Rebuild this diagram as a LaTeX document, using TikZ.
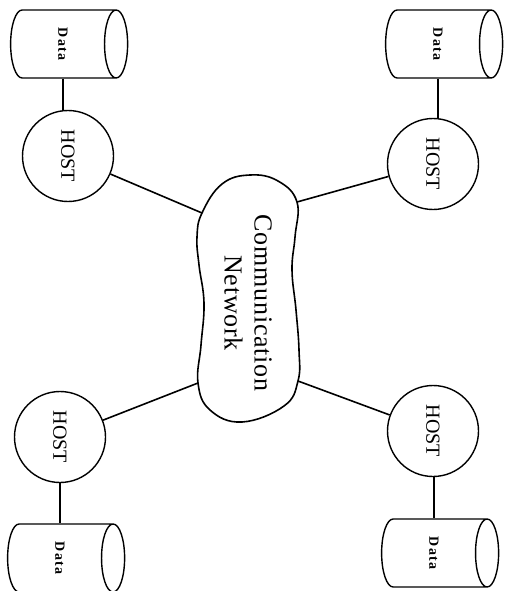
\documentclass[tikz,border=0pt]{standalone}
\usepackage{fontspec}
\setmainfont{Liberation Serif}
\newfontfamily\datafont[LetterSpace=10]{Liberation Serif}
\newfontfamily\netfont[LetterSpace=3]{Liberation Serif}
\usetikzlibrary{shapes.geometric, positioning}

\begin{document}
\begin{tikzpicture}[x=1pt, y=-1pt,
                host/.style={draw, circle, line width=1.4pt, minimum size=91pt, inner sep=0pt,
                             font=\fontsize{20}{24}\selectfont},
                datastore/.style={draw, cylinder, aspect=0.7, line width=1.4pt, inner sep=0pt,
                             minimum height=117pt, minimum width=68pt,
                             font=\datafont\bfseries\fontsize{14}{16}\selectfont},
                link/.style={line width=1.6pt}]
                \useasboundingbox (0,0) rectangle (505,591);

                % Cloud in the middle
                \draw[line width=1.6pt] plot[smooth cycle, tension=0.7] coordinates {
                    (250,175) (278,181) (297,202) (295,237) (292,270) (296,310)
                    (299,350) (298,381) (284,406) (242,422) (210,410) (198,383)
                    (201,345) (204,303) (199,265) (197,237) (202,213) (222,184)};
                \node[rotate=-90, align=center, font=\netfont\fontsize{26}{30}\selectfont] (net) at (248,303) {Communication\\Network};
                \coordinate (cloud-nw) at (202,213);
                \coordinate (cloud-ne) at (297,202);
                \coordinate (cloud-sw) at (198,383);
                \coordinate (cloud-se) at (298,381);

                % Hosts
                \node[host] (tl-host) at (68,156) {\rotatebox{-90}{HOST}};
                \node[host] (tr-host) at (433,164) {\rotatebox{-90}{HOST}};
                \node[host] (bl-host) at (60,437) {\rotatebox{-90}{HOST}};
                \node[host] (br-host) at (433,431) {\rotatebox{-90}{HOST}};

                % Data stores
                \node[datastore] (tl-data) at (63,44) {\rotatebox{-90}{Data}};
                \node[datastore] (tr-data) at (438,44) {\rotatebox{-90}{Data}};
                \node[datastore] (bl-data) at (60,558) {\rotatebox{-90}{Data}};
                \node[datastore] (br-data) at (434,553) {\rotatebox{-90}{Data}};

                % Host to data
                \draw[link] (tl-data.south) -- (tl-data.south |- tl-host.north);
                \draw[link] (tr-data.south) -- (tr-data.south |- tr-host.north);
                \draw[link] (bl-data.north) -- (bl-data.north |- bl-host.south);
                \draw[link] (br-data.north) -- (br-data.north |- br-host.south);

                % Host to network
                \draw[link] (tl-host) -- (cloud-nw);
                \draw[link] (tr-host) -- (cloud-ne);
                \draw[link] (bl-host) -- (cloud-sw);
                \draw[link] (br-host) -- (cloud-se);
            \end{tikzpicture}
\end{document}
